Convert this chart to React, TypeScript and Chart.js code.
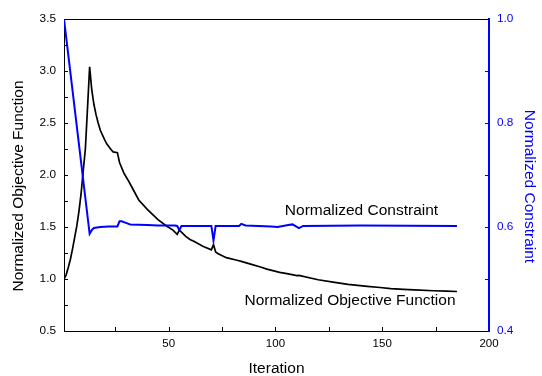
import React, { useEffect, useRef } from 'react';
import { Chart, registerables } from 'chart.js';

Chart.register(...registerables);

// Normalized objective function (left axis)
const objIterations = [1, 2, 3, 4, 5, 6, 7, 8, 9, 10, 11, 12, 13, 14, 15, 16, 17, 18, 20, 21, 23, 24, 26, 27, 29, 31, 33, 36, 40, 45, 49, 52, 54, 55, 56, 58, 60, 62, 66, 70, 71, 72, 73, 77, 82, 84, 88, 93, 96, 102, 106, 110, 111, 120, 127, 134, 143, 149, 154, 160, 165, 174, 180, 185];
const objValues = [1.0, 1.04, 1.11, 1.19, 1.29, 1.4, 1.51, 1.65, 1.82, 2.04, 2.25, 2.64, 3.04, 2.82, 2.68, 2.58, 2.5, 2.43, 2.34, 2.3, 2.245, 2.222, 2.215, 2.12, 2.02, 1.95, 1.875, 1.76, 1.67, 1.57, 1.51, 1.47, 1.43, 1.47, 1.45, 1.41, 1.38, 1.36, 1.315, 1.28, 1.33, 1.26, 1.245, 1.205, 1.18, 1.17, 1.145, 1.115, 1.095, 1.064, 1.05, 1.032, 1.035, 0.993, 0.97, 0.948, 0.93, 0.918, 0.908, 0.9, 0.895, 0.887, 0.884, 0.88];

// Normalized constraint (right axis)
const conIterations = [1, 13, 14, 15, 18, 22, 26, 27, 28, 30, 32, 40, 45, 53, 54, 55, 56, 65, 70, 71, 72, 83, 84, 86, 98, 101, 106, 108, 111, 113, 140, 185];
const conValues = [1.0, 0.587, 0.594, 0.598, 0.6, 0.601, 0.601, 0.611, 0.611, 0.608, 0.605, 0.604, 0.603, 0.603, 0.602, 0.594, 0.602, 0.602, 0.602, 0.574, 0.602, 0.602, 0.606, 0.603, 0.601, 0.6, 0.604, 0.605, 0.598, 0.602, 0.603, 0.602];

const xTickLabels = [50, 100, 150, 200];
const xMinorTicks = [25, 50, 75, 100, 125, 150, 175];
const yLeftMinorTicks = [0.75, 1.0, 1.25, 1.5, 1.75, 2.0, 2.25, 2.5, 2.75, 3.0, 3.25];
const yRightMinorTicks = [0.5, 0.6, 0.7, 0.8, 0.9];

const FONT = 'Arial, "Liberation Sans", sans-serif';
const BLUE = '#0000ff';

const decorPlugin = {
  id: 'decor',
  afterDraw(chart: any) {
    const { ctx, chartArea } = chart;
    const { left, right, top, bottom } = chartArea;
    const x = chart.scales.x;
    const y = chart.scales.y;
    const y1 = chart.scales.y1;
    ctx.save();
    // top frame line
    ctx.strokeStyle = '#000';
    ctx.lineWidth = 1.2;
    ctx.beginPath();
    ctx.moveTo(left, top + 0.5);
    ctx.lineTo(right, top + 0.5);
    ctx.stroke();
    // inward ticks
    ctx.lineWidth = 1;
    ctx.beginPath();
    for (const v of xMinorTicks) {
      const px = Math.round(x.getPixelForValue(v)) + 0.5;
      ctx.moveTo(px, bottom);
      ctx.lineTo(px, bottom - 4);
    }
    for (const v of yLeftMinorTicks) {
      const py = Math.round(y.getPixelForValue(v)) + 0.5;
      ctx.moveTo(left, py);
      ctx.lineTo(left + 4, py);
    }
    ctx.stroke();
    ctx.strokeStyle = BLUE;
    ctx.beginPath();
    for (const v of yRightMinorTicks) {
      const py = Math.round(y1.getPixelForValue(v)) + 0.5;
      ctx.moveTo(right, py);
      ctx.lineTo(right - 4, py);
    }
    ctx.stroke();

    // titles and annotations
    ctx.font = `15.5px ${FONT}`;
    ctx.textBaseline = 'middle';
    ctx.textAlign = 'center';
    ctx.fillStyle = '#000';
    ctx.fillText('Iteration', (left + right) / 2, 368.5);
    ctx.fillText('Normalized Constraint', 361.5, 211);
    ctx.fillText('Normalized Objective Function', 350, 301);

    ctx.save();
    ctx.translate(19.2, 186);
    ctx.rotate(-Math.PI / 2);
    ctx.fillText('Normalized Objective Function', 0, 0);
    ctx.restore();

    ctx.save();
    ctx.fillStyle = BLUE;
    ctx.translate(529.2, 186.5);
    ctx.rotate(Math.PI / 2);
    ctx.fillText('Normalized Constraint', 0, 0);
    ctx.restore();

    ctx.restore();
  },
};

export default function App() {
  const canvasRef = useRef<HTMLCanvasElement | null>(null);

  useEffect(() => {
    const canvas = canvasRef.current;
    if (!canvas) return;
    const chart = new Chart(canvas, {
      type: 'line',
      data: {
        datasets: [
          {
            label: 'Normalized Constraint',
            data: conIterations.map((it, i) => ({ x: it, y: conValues[i] })),
            yAxisID: 'y1',
            borderColor: BLUE,
            borderWidth: 2,
            pointRadius: 0,
            tension: 0,
            fill: false,
            order: 0,
          },
          {
            label: 'Normalized Objective Function',
            data: objIterations.map((it, i) => ({ x: it, y: objValues[i] })),
            yAxisID: 'y',
            borderColor: '#000',
            borderWidth: 1.7,
            pointRadius: 0,
            tension: 0,
            fill: false,
            order: 1,
          },
        ],
      },
      options: {
        responsive: false,
        animation: false,
        devicePixelRatio: 1,
        layout: { padding: { top: 19, left: 0, right: 0, bottom: 0 } },
        plugins: {
          legend: { display: false },
          tooltip: { enabled: false },
        },
        scales: {
          x: {
            type: 'linear',
            position: 'bottom',
            min: 1,
            max: 200,
            grid: { display: false, drawTicks: false, tickLength: 0 },
            border: { display: true, color: '#000', width: 1 },
            afterBuildTicks: (scale: any) => {
              scale.ticks = xTickLabels.map((v) => ({ value: v }));
            },
            afterFit: (scale: any) => {
              scale.height = 45;
            },
            ticks: {
              color: '#000',
              padding: 6,
              maxRotation: 0,
              autoSkip: false,
              font: { family: FONT, size: 11.5 },
              callback: (v: any) => String(v),
            },
          },
          y: {
            type: 'linear',
            position: 'left',
            min: 0.5,
            max: 3.5,
            grid: { display: false, drawTicks: false, tickLength: 0 },
            border: { display: true, color: '#000', width: 1 },
            afterFit: (scale: any) => {
              scale.width = 64;
            },
            ticks: {
              stepSize: 0.5,
              color: '#000',
              padding: 8,
              font: { family: FONT, size: 11.8 },
              callback: (v: any) => Number(v).toFixed(1),
            },
          },
          y1: {
            type: 'linear',
            position: 'right',
            min: 0.4,
            max: 1.0,
            grid: { display: false, drawTicks: false, tickLength: 0 },
            border: { display: true, color: BLUE, width: 2 },
            afterFit: (scale: any) => {
              scale.width = 53;
            },
            ticks: {
              stepSize: 0.2,
              color: BLUE,
              padding: 8,
              font: { family: FONT, size: 11.8 },
              callback: (v: any) => Number(v).toFixed(1),
            },
          },
        },
      },
      plugins: [decorPlugin],
    });
    return () => chart.destroy();
  }, []);

  return (
    <div style={{ position: 'absolute', left: 0, top: 0, width: 542, height: 376, background: '#fff' }}>
      <canvas ref={canvasRef} width={542} height={376} style={{ display: 'block' }} />
    </div>
  );
}
